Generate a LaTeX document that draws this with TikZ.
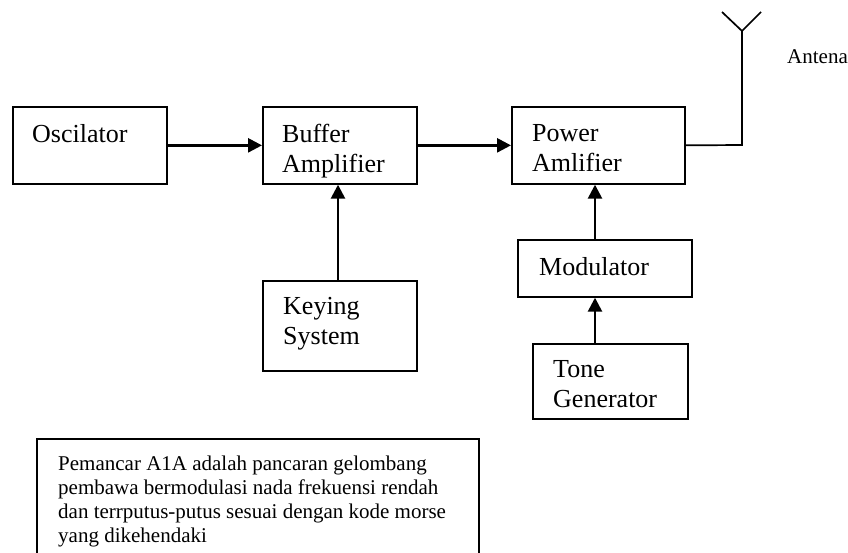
\documentclass[tikz,border=0pt]{standalone}
\usepackage{fontspec}
\setmainfont{Liberation Serif}
\usetikzlibrary{arrows.meta,calc}

\begin{document}
\begin{tikzpicture}[x=1pt,y=1pt,
  block/.style={draw, line width=1.7pt, rectangle, inner sep=0pt, anchor=north west},
  lbl/.style={anchor=north west, inner sep=0pt, align=left,
              font=\fontsize{26}{30}\selectfont},
  feed/.style={line width=2.6pt, -{Triangle[length=14pt,width=14pt]}},
  wire/.style={line width=1.7pt},
]
\useasboundingbox (0,0) rectangle (848,-553);

% blocks of the transmitter chain
\node[block, minimum width=154pt, minimum height=77pt] (osc) at (12,-106) {};
\node[block, minimum width=154pt, minimum height=77pt] (buf) at (262,-106) {};
\node[block, minimum width=173pt, minimum height=77pt] (pa)  at (511,-106) {};
\node[block, minimum width=154pt, minimum height=90pt] (key) at (262,-280) {};
\node[block, minimum width=174pt, minimum height=57pt] (mod) at (517,-239) {};
\node[block, minimum width=155pt, minimum height=75pt] (tone) at (532,-343) {};

% block labels
\node[lbl] (oscT)  at ($(osc.north west)+(20,-18)$)  {Oscilator};
\node[lbl] (bufT)  at ($(buf.north west)+(20,-18)$)  {Buffer\\Amplifier};
\node[lbl] (paT)   at ($(pa.north west)+(21,-18)$)   {Power\\Amlifier};
\node[lbl] (keyT)  at ($(key.north west)+(21,-17)$)  {Keying\\System};
\node[lbl] (modT)  at ($(mod.north west)+(22,-18)$)  {Modulator};
\node[lbl] (toneT) at ($(tone.north west)+(21,-17)$) {Tone\\Generator};

% signal flow
\draw[feed] (osc.east) -- (buf.west);
\draw[feed] (buf.east) -- (pa.west);
\coordinate (keyx) at (338,0);
\coordinate (modx) at (595,0);
\draw[feed] (keyx |- key.north) -- (keyx |- buf.south);
\draw[feed] (modx |- mod.north) -- (modx |- pa.south);
\draw[feed] (modx |- tone.north) -- (modx |- mod.south);

% antenna
\coordinate (mast) at (742,-145);
\coordinate (tip)  at (742,-31);
\coordinate (armL) at (722,-12);
\coordinate (armR) at (761,-12);
\draw[wire] (pa.east) -- (mast) -- (tip);
\draw[wire] (armL) -- (tip) -- (armR);
\node[anchor=base west, inner sep=0pt, font=\fontsize{21}{24}\selectfont] (ant) at (787,-64) {Antena};

% description note (frame open at the bottom)
\coordinate (noteBL) at (37,-553);
\coordinate (noteTL) at (37,-439);
\coordinate (noteTR) at (479,-439);
\coordinate (noteBR) at (479,-553);
\draw[line width=1.7pt] (noteBL) -- (noteTL) -- (noteTR) -- (noteBR);
\node[anchor=north west, inner sep=0pt, align=left,
      font=\fontsize{21}{24}\selectfont] (note) at (58,-455.5)
  {Pemancar A1A adalah pancaran gelombang\\
   pembawa bermodulasi nada frekuensi rendah\\
   dan terrputus-putus sesuai dengan kode morse\\
   yang dikehendaki};
\end{tikzpicture}
\end{document}
